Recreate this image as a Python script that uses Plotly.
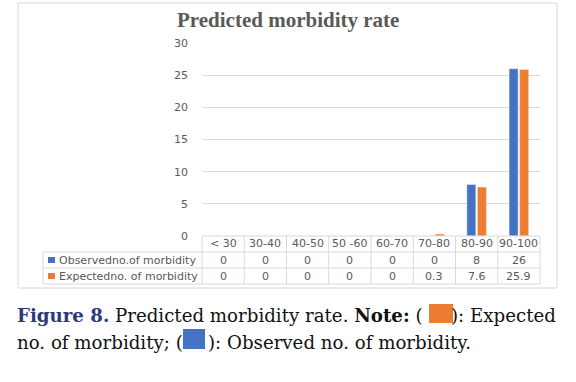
import plotly.graph_objects as go

categories = ["< 30", "30-40", "40-50", "50 -60", "60-70", "70-80", "80-90", "90-100"]
observed = [0, 0, 0, 0, 0, 0, 8, 26]
expected = [0, 0, 0, 0, 0, 0.3, 7.6, 25.9]
observed_labels = ["0", "0", "0", "0", "0", "0", "8", "26"]
expected_labels = ["0", "0", "0", "0", "0", "0.3", "7.6", "25.9"]
series_names = ["Observedno.of morbidity", "Expectedno. of morbidity"]
y_ticks = [0, 5, 10, 15, 20, 25, 30]

BLUE = "#4472C4"
ORANGE = "#ED7D31"
GRAY_TXT = "#595959"
GRID = "#d9d9d9"

W, H = 576, 382
L, R, T, B = 202, 540, 43, 236
n = len(categories)
cw = (R - L) / n


def px(x):
    return (x - L) / (R - L)


def py(y):
    return (B - y) / (B - T)


fig = go.Figure()
fig.add_trace(go.Bar(x=list(range(n)), y=observed, name=series_names[0], marker_color=BLUE))
fig.add_trace(go.Bar(x=list(range(n)), y=expected, name=series_names[1], marker_color=ORANGE))

shapes = []
annotations = []

# outer chart border
shapes.append(dict(type="rect", xref="paper", yref="paper", x0=px(18), x1=px(557), y0=py(288), y1=py(3),
                   line=dict(color=GRID, width=1), fillcolor="rgba(0,0,0,0)", layer="below"))

# data table
row_y = [236, 252, 268, 284]
lab_x0 = 43
for i, yy in enumerate(row_y):
    x0 = L if i == 0 else lab_x0
    shapes.append(dict(type="line", xref="paper", yref="paper", x0=px(x0), x1=px(R), y0=py(yy), y1=py(yy),
                       line=dict(color=GRID, width=1)))
for k in range(n + 1):
    xx = L + k * cw
    shapes.append(dict(type="line", xref="paper", yref="paper", x0=px(xx), x1=px(xx), y0=py(236), y1=py(284),
                       line=dict(color=GRID, width=1)))
shapes.append(dict(type="line", xref="paper", yref="paper", x0=px(lab_x0), x1=px(lab_x0), y0=py(252), y1=py(284),
                   line=dict(color=GRID, width=1)))

tfont = dict(family="DejaVu Sans, sans-serif", size=11, color=GRAY_TXT)
for k, c in enumerate(categories):
    cx = px(L + (k + 0.5) * cw)
    annotations.append(dict(x=cx, y=py(244), xref="paper", yref="paper", text=c, showarrow=False,
                            font=tfont, xanchor="center", yanchor="middle"))
    annotations.append(dict(x=cx, y=py(260), xref="paper", yref="paper", text=observed_labels[k], showarrow=False,
                            font=tfont, xanchor="center", yanchor="middle"))
    annotations.append(dict(x=cx, y=py(276), xref="paper", yref="paper", text=expected_labels[k], showarrow=False,
                            font=tfont, xanchor="center", yanchor="middle"))

for i, (nm, col) in enumerate(zip(series_names, [BLUE, ORANGE])):
    yc = 260 + 16 * i
    shapes.append(dict(type="rect", xref="paper", yref="paper", x0=px(48), x1=px(55), y0=py(yc + 3), y1=py(yc - 3),
                       fillcolor=col, line=dict(width=0)))
    annotations.append(dict(x=px(57), y=py(yc), xref="paper", yref="paper", text=nm, showarrow=False,
                            font=tfont, xanchor="left", yanchor="middle"))

# chart title
annotations.append(dict(x=px(288), y=py(20), xref="paper", yref="paper", text="<b>Predicted morbidity rate</b>",
                        showarrow=False, font=dict(family="Liberation Serif, serif", size=21, color=GRAY_TXT),
                        xanchor="center", yanchor="middle"))

# caption
cfont = dict(family="DejaVu Serif, serif", size=18.2, color="#111111")
annotations.append(dict(x=px(15), y=py(315), xref="paper", yref="paper",
                        text="<span style='color:#2b3a80'><b>Figure 8.</b></span> Predicted morbidity rate. <b>Note:</b> (",
                        showarrow=False, font=cfont, xanchor="left", yanchor="middle"))
shapes.append(dict(type="rect", xref="paper", yref="paper", x0=px(429), x1=px(453), y0=py(323), y1=py(304),
                   fillcolor=ORANGE, line=dict(width=0)))
annotations.append(dict(x=px(558), y=py(315), xref="paper", yref="paper", text="): Expected",
                        showarrow=False, font=cfont, xanchor="right", yanchor="middle"))
annotations.append(dict(x=px(15), y=py(342), xref="paper", yref="paper", text="no. of morbidity; (",
                        showarrow=False, font=cfont, xanchor="left", yanchor="middle"))
shapes.append(dict(type="rect", xref="paper", yref="paper", x0=px(183), x1=px(205), y0=py(349), y1=py(329),
                   fillcolor=BLUE, line=dict(width=0)))
annotations.append(dict(x=px(206), y=py(342), xref="paper", yref="paper", text="): Observed no. of morbidity.",
                        showarrow=False, font=cfont, xanchor="left", yanchor="middle"))

fig.update_layout(
    width=W, height=H,
    margin=dict(l=L, r=W - R, t=T, b=H - B, pad=0),
    paper_bgcolor="white", plot_bgcolor="white",
    showlegend=False,
    barmode="group", bargap=0.5, bargroupgap=0.15,
    shapes=shapes, annotations=annotations,
    xaxis=dict(range=[-0.5, n - 0.5], showticklabels=False, showgrid=False, zeroline=False, showline=False,
               fixedrange=True),
    yaxis=dict(range=[0, 30], tickvals=y_ticks, showgrid=True, gridcolor=GRID, gridwidth=1, zeroline=False,
               showline=False, ticks="", ticklabelstandoff=13,
               tickfont=dict(family="DejaVu Sans, sans-serif", size=11, color=GRAY_TXT)),
)

fig.write_html("out.html", config={"displayModeBar": False},
               post_script="document.body.style.margin='0';document.body.style.padding='0';"
                           "document.documentElement.style.overflow='hidden';")
